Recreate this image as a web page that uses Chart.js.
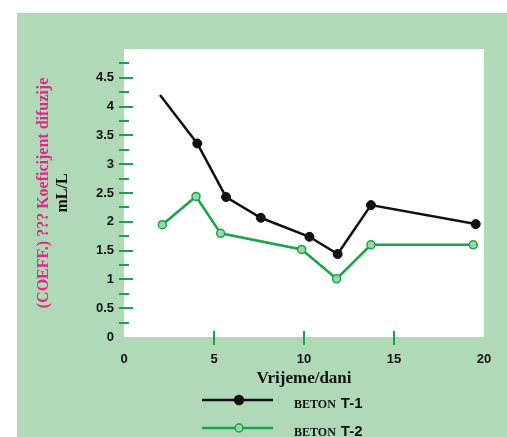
<!DOCTYPE html>
<html lang="hr">
<head>
    <meta charset="UTF-8">
    <title>Koeficijent difuzije</title>
    <script src="https://cdn.jsdelivr.net/npm/chart.js"></script>
    <style>
        * {
            margin: 0;
            padding: 0;
        }

        body {
            background-color: #ffffff;
        }

        #chart {
            display: block;
        }
    </style>
</head>
<body>
    <canvas id="chart" width="507" height="437"></canvas>

    <script>
        // Data
        const t1Days = [2.0, 4.07, 5.67, 7.6, 10.3, 11.87, 13.72, 19.54];
        const t1Values = [4.2, 3.36, 2.43, 2.07, 1.74, 1.44, 2.29, 1.96];
        const t2Days = [2.13, 4.0, 5.37, 9.87, 11.81, 13.72, 19.4];
        const t2Values = [1.95, 2.44, 1.80, 1.52, 1.01, 1.60, 1.60];

        const seriesLabels = ['BETON T-1', 'BETON T-2'];
        const xTickValues = [0, 5, 10, 15, 20];
        const xTickMarks = [5, 10, 15];
        const yTickValues = [0, 0.5, 1, 1.5, 2, 2.5, 3, 3.5, 4, 4.5];
        const xTitle = 'Vrijeme/dani';
        const yTitle = '(COEFF.) ??? Koeficijent difuzije';
        const yUnit = 'mL/L';

        const panelGreen = '#afd9b7';
        const lineGreen = '#1aa34a';
        const dotGreen = '#9fd6a8';
        const pink = '#e4258c';

        function toPoints(xs, ys) {
            return xs.map((x, i) => ({ x: x, y: ys[i] }));
        }

        // Background panel, tick marks, rotated titles and legend
        const decor = {
            id: 'decor',
            beforeDraw(chart) {
                const { ctx, chartArea: a, width, height } = chart;
                ctx.save();
                ctx.fillStyle = '#ffffff';
                ctx.fillRect(0, 0, width, height);
                ctx.fillStyle = panelGreen;
                ctx.fillRect(17, 13, width - 17, height - 13);
                ctx.fillStyle = '#ffffff';
                ctx.fillRect(a.left, a.top, a.right - a.left, a.bottom - a.top);
                ctx.restore();
            },
            beforeDatasetsDraw(chart) {
                const { ctx, chartArea: a, scales } = chart;
                ctx.save();
                ctx.strokeStyle = lineGreen;
                ctx.lineWidth = 2;
                // y marks every 0.25
                for (let v = 0.25; v < 4.9; v += 0.25) {
                    const y = Math.round(scales.y.getPixelForValue(v));
                    const major = Math.abs(v * 2 - Math.round(v * 2)) < 0.01;
                    ctx.beginPath();
                    ctx.moveTo(a.left - 5, y);
                    ctx.lineTo(a.left + (major ? 9 : 5), y);
                    ctx.stroke();
                }
                xTickMarks.forEach(v => {
                    const x = Math.round(scales.x.getPixelForValue(v));
                    ctx.beginPath();
                    ctx.moveTo(x, a.bottom - 6);
                    ctx.lineTo(x, a.bottom + 8);
                    ctx.stroke();
                });
                ctx.restore();
            },
            afterDraw(chart) {
                const { ctx, chartArea: a } = chart;
                const midY = (a.top + a.bottom) / 2;
                ctx.save();
                ctx.translate(44, midY);
                ctx.rotate(-Math.PI / 2);
                ctx.textAlign = 'center';
                ctx.textBaseline = 'middle';
                ctx.font = 'bold 16px "Liberation Serif"';
                ctx.fillStyle = pink;
                ctx.fillText(yTitle, 0, 0);
                ctx.fillStyle = '#111111';
                ctx.fillText(yUnit, 0, 19);
                ctx.restore();

                // legend
                const rows = [400, 428];
                chart.data.datasets.forEach((ds, i) => {
                    const y = rows[i];
                    ctx.save();
                    ctx.strokeStyle = ds.borderColor;
                    ctx.lineWidth = 2.5;
                    ctx.beginPath();
                    ctx.moveTo(202, y);
                    ctx.lineTo(273, y);
                    ctx.stroke();
                    ctx.beginPath();
                    ctx.arc(239, y, i === 0 ? 4.5 : 4, 0, Math.PI * 2);
                    ctx.fillStyle = ds.pointBackgroundColor;
                    ctx.fill();
                    ctx.lineWidth = 1.5;
                    ctx.stroke();
                    const parts = ds.label.split(' ');
                    ctx.fillStyle = '#111111';
                    ctx.textBaseline = 'alphabetic';
                    ctx.font = 'bold 12px "Liberation Serif"';
                    ctx.fillText(parts[0], 294, y + 8);
                    const w = ctx.measureText(parts[0]).width;
                    ctx.font = 'bold 15px "Liberation Sans"';
                    ctx.fillText(parts[1], 294 + w + 5, y + 8);
                    ctx.restore();
                });
            }
        };

        const ctx = document.getElementById('chart').getContext('2d');
        new Chart(ctx, {
            type: 'line',
            data: {
                datasets: [
                    {
                        label: seriesLabels[0],
                        data: toPoints(t1Days, t1Values),
                        borderColor: '#111111',
                        backgroundColor: '#111111',
                        pointBackgroundColor: '#111111',
                        pointBorderColor: '#111111',
                        borderWidth: 2.5,
                        pointRadius: t1Days.map((d, i) => i === 0 ? 0 : 4.5),
                        pointBorderWidth: 1,
                        tension: 0
                    },
                    {
                        label: seriesLabels[1],
                        data: toPoints(t2Days, t2Values),
                        borderColor: lineGreen,
                        backgroundColor: lineGreen,
                        pointBackgroundColor: dotGreen,
                        pointBorderColor: lineGreen,
                        borderWidth: 2.5,
                        pointRadius: 4,
                        pointBorderWidth: 1.5,
                        tension: 0
                    }
                ]
            },
            options: {
                responsive: false,
                animation: false,
                layout: {
                    padding: { left: 0, top: 49, right: 23, bottom: 0 }
                },
                plugins: {
                    legend: { display: false },
                    tooltip: { enabled: false }
                },
                scales: {
                    x: {
                        type: 'linear',
                        min: 0,
                        max: 20,
                        afterFit: scale => { scale.height = 100; },
                        afterBuildTicks: scale => {
                            scale.ticks = xTickValues.map(v => ({ value: v }));
                        },
                        grid: { display: false, drawTicks: false },
                        border: { display: false },
                        ticks: {
                            padding: 15,
                            color: '#111111',
                            font: { family: 'Liberation Sans', size: 13, weight: 'bold' },
                            callback: v => String(v)
                        },
                        title: {
                            display: true,
                            text: xTitle,
                            color: '#111111',
                            font: { family: 'Liberation Serif', size: 17, weight: 'bold' },
                            padding: { top: 0, bottom: 48 }
                        }
                    },
                    y: {
                        type: 'linear',
                        min: 0,
                        max: 5,
                        afterFit: scale => { scale.width = 124; },
                        afterBuildTicks: scale => {
                            scale.ticks = yTickValues.map(v => ({ value: v }));
                        },
                        grid: { display: false, drawTicks: false },
                        border: { display: false },
                        ticks: {
                            padding: 10,
                            color: '#111111',
                            font: { family: 'Liberation Sans', size: 13, weight: 'bold' },
                            callback: v => String(v)
                        }
                    }
                }
            },
            plugins: [decor]
        });
    </script>
</body>
</html>
